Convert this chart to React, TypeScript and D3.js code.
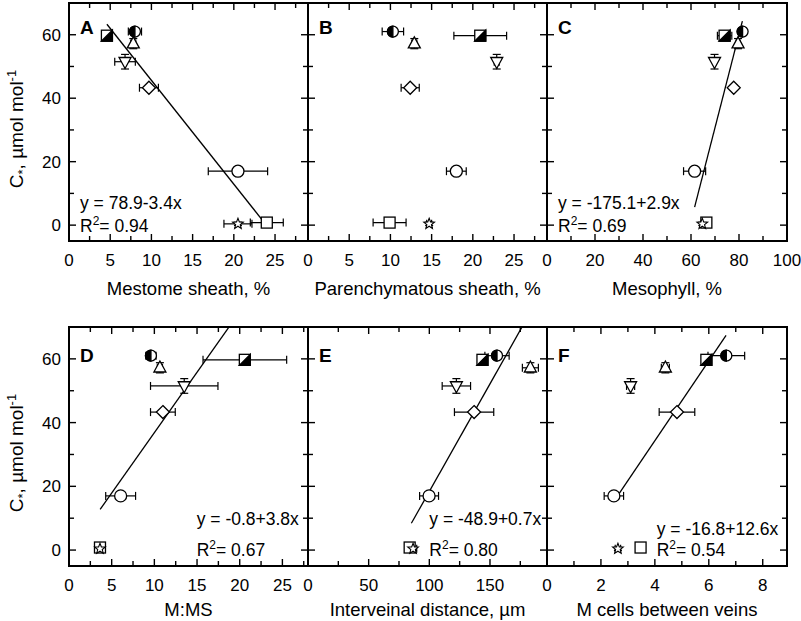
import * as d3 from 'd3'

// species order: half-filled circle, half-filled square, triangle up, triangle down,
// diamond, open circle, open square, star
const marks = ['halfCircle', 'halfSquare', 'triUp', 'triDown', 'diamond', 'circle', 'square', 'star']

// C* (umol mol-1), shared by all six panels
const cStar = [61, 59.7, 57.2, 51.5, 43.3, 17, 0.8, 0.4]
const cStarErr = [1, 0.8, 1.6, 2.3, 0.8, 0.8, 0.5, 0.5]

const mestome = [8.0, 4.6, 7.8, 6.8, 9.7, 20.5, 24.0, 20.5]
const mestomeErr = [0.8, 0.3, 0.3, 1.25, 1.15, 3.6, 2.0, 1.7]
const parench = [10.3, 20.9, 12.9, 22.9, 12.4, 18.0, 9.9, 14.7]
const parenchErr = [1.3, 3.2, 0.3, 0.3, 1.1, 1.2, 2.0, 0.3]
const mesophyll = [81.5, 74, 79.6, 69.8, 77.8, 61.5, 66.4, 64.7]
const mesophyllErr = [1.2, 3, 0.8, 0.5, 0.5, 4.6, 0.8, 0.5]
const mms = [9.6, 20.6, 10.65, 13.5, 11.0, 6.05, 3.63, 3.63]
const mmsErr = [0.6, 4.9, 0.3, 3.95, 1.45, 1.75, 0.3, 0.3]
const interveinal = [155.8, 143.8, 183.3, 122.3, 136.9, 99.8, 83.8, 86.6]
const interveinalErr = [10, 2, 6.6, 11.7, 16.2, 7.8, 3, 3]
const mCells = [6.65, 5.91, 4.39, 3.1, 4.82, 2.48, 3.47, 2.63]
const mCellsErr = [0.68, 0.1, 0.15, 0.15, 0.66, 0.36, 0.1, 0.1]

// regression lines (start and end point)
const fitA: [number, number][] = [[4.6, 63.3], [23.7, 0.8]]
const fitC: [number, number][] = [[61.5, 5.7], [81.4, 64.3]]
const fitD: [number, number][] = [[3.65, 12.8], [18.8, 70.2]]
const fitE: [number, number][] = [[85.2, 8.4], [176.7, 70.2]]
const fitF: [number, number][] = [[2.68, 17.8], [6.64, 67.4]]

const eqA = ['y = 78.9-3.4x', '0.94']
const eqC = ['y = -175.1+2.9x', '0.69']
const eqD = ['y = -0.8+3.8x', '0.67']
const eqE = ['y = -48.9+0.7x', '0.80']
const eqF = ['y = -16.8+12.6x', '0.54']

const yDomain = [-5, 70]
const yMajor = [0, 20, 40, 60]
const yMinor = [10, 30, 50]

const W = 801
const H = 621
const FONT = '"Liberation Sans", Arial, Helvetica, sans-serif'
const colX = [69, 308, 547, 787]
const rowY = [[3, 241], [327, 566]]
const letterDy = [30.5, 34.5]
const tickLabelDy = 25
const titleDy = [54, 49.5]

interface PanelDef {
  id: string
  col: number
  row: number
  xs: number[]
  xe: number[]
  domain: [number, number]
  major: number[]
  minor: number[]
  title: string
  fit?: [number, number][]
  eq?: string[]
  eqX?: number
  eqY?: [number, number]
}

const panels: PanelDef[] = [
  { id: 'A', col: 0, row: 0, xs: mestome, xe: mestomeErr, domain: [0, 29],
    major: d3.range(0, 26, 5), minor: d3.range(2.5, 29, 5), title: 'Mestome sheath, %',
    fit: fitA, eq: eqA, eqX: 11, eqY: [32.5, 9.5] },
  { id: 'B', col: 1, row: 0, xs: parench, xe: parenchErr, domain: [0, 29],
    major: d3.range(0, 26, 5), minor: d3.range(2.5, 29, 5), title: 'Parenchymatous sheath, %' },
  { id: 'C', col: 2, row: 0, xs: mesophyll, xe: mesophyllErr, domain: [0, 100],
    major: d3.range(0, 101, 20), minor: d3.range(10, 100, 20), title: 'Mesophyll, %',
    fit: fitC, eq: eqC, eqX: 11, eqY: [32.5, 9.5] },
  { id: 'D', col: 0, row: 1, xs: mms, xe: mmsErr, domain: [0, 28],
    major: d3.range(0, 26, 5), minor: d3.range(2.5, 28, 5), title: 'M:MS',
    fit: fitD, eq: eqD, eqX: 127.7, eqY: [41, 10.5] },
  { id: 'E', col: 1, row: 1, xs: interveinal, xe: interveinalErr, domain: [0, 197],
    major: [0, 50, 100, 150], minor: [25, 75, 125, 175], title: 'Interveinal distance, µm',
    fit: fitE, eq: eqE, eqX: 121.3, eqY: [41, 10.5] },
  { id: 'F', col: 2, row: 1, xs: mCells, xe: mCellsErr, domain: [0, 8.9],
    major: [0, 2, 4, 6, 8], minor: [1, 3, 5, 7], title: 'M cells between veins',
    fit: fitF, eq: eqF, eqX: 109.7, eqY: [31.5, 10] },
]

const starPath = (() => {
  const pts: string[] = []
  for (let i = 0; i < 10; i++) {
    const r = i % 2 === 0 ? 5.6 : 2.4
    const a = -Math.PI / 2 + (i * Math.PI) / 5
    pts.push(`${(r * Math.cos(a)).toFixed(2)},${(r * Math.sin(a)).toFixed(2)}`)
  }
  return 'M' + pts.join('L') + 'Z'
})()

const Marker = ({ kind, x, y }: { kind: string; x: number; y: number }) => {
  const st = { stroke: '#000', strokeWidth: 1.3 }
  const t = `translate(${x},${y})`
  switch (kind) {
    case 'circle':
      return <circle cx={x} cy={y} r={6} fill="#fff" {...st} />
    case 'halfCircle':
      return (
        <g transform={t}>
          <circle r={5.5} fill="#fff" {...st} />
          <path d="M0,-5.5A5.5,5.5 0 0 0 0,5.5Z" fill="#000" {...st} />
        </g>
      )
    case 'square':
      return <rect x={x - 5.5} y={y - 5.5} width={11} height={11} fill="#fff" {...st} />
    case 'halfSquare':
      return (
        <g transform={t}>
          <rect x={-5.5} y={-5.5} width={11} height={11} fill="#fff" {...st} />
          <path d="M5.5,-5.5L5.5,5.5L-5.5,5.5Z" fill="#000" {...st} />
        </g>
      )
    case 'triUp':
      return <path transform={t} d="M0,-6.8L6,4.2L-6,4.2Z" fill="#fff" {...st} />
    case 'triDown':
      return <path transform={t} d="M0,6.8L6,-4.2L-6,-4.2Z" fill="#fff" {...st} />
    case 'diamond':
      return <path transform={t} d="M0,-6.5L6.5,0L0,6.5L-6.5,0Z" fill="#fff" {...st} />
    default:
      return <path transform={t} d={starPath} fill="#fff" stroke="#000" strokeWidth={1.1} />
  }
}

const Panel = ({ p }: { p: PanelDef }) => {
  const x0 = colX[p.col]
  const x1 = colX[p.col + 1]
  const [top, bottom] = rowY[p.row]
  const x = d3.scaleLinear().domain(p.domain).range([x0, x1])
  const y = d3.scaleLinear().domain(yDomain).range([bottom, top])
  const line = d3.line<[number, number]>().x(d => x(d[0])).y(d => y(d[1]))
  const clipId = `clip-${p.id}`
  const tk = { stroke: '#000', strokeWidth: 1.4 }
  const cap = 4

  return (
    <g>
      <defs>
        <clipPath id={clipId}>
          <rect x={x0} y={top} width={x1 - x0} height={bottom - top} />
        </clipPath>
      </defs>

      {/* ticks, inward on all four sides */}
      {p.major.map(v => (
        <g key={'mx' + v}>
          <line x1={x(v)} x2={x(v)} y1={bottom} y2={bottom - 7} {...tk} />
          <line x1={x(v)} x2={x(v)} y1={top} y2={top + 7} {...tk} />
        </g>
      ))}
      {p.minor.map(v => (
        <g key={'nx' + v}>
          <line x1={x(v)} x2={x(v)} y1={bottom} y2={bottom - 5} {...tk} />
          <line x1={x(v)} x2={x(v)} y1={top} y2={top + 5} {...tk} />
        </g>
      ))}
      {yMajor.map(v => (
        <g key={'my' + v}>
          <line x1={x0} x2={x0 + 7} y1={y(v)} y2={y(v)} {...tk} />
          <line x1={x1} x2={x1 - 7} y1={y(v)} y2={y(v)} {...tk} />
        </g>
      ))}
      {yMinor.map(v => (
        <g key={'ny' + v}>
          <line x1={x0} x2={x0 + 5} y1={y(v)} y2={y(v)} {...tk} />
          <line x1={x1} x2={x1 - 5} y1={y(v)} y2={y(v)} {...tk} />
        </g>
      ))}

      {/* tick labels */}
      {p.major.map(v => (
        <text key={'lx' + v} x={x(v)} y={bottom + tickLabelDy} textAnchor="middle" fontSize={17}>
          {v}
        </text>
      ))}
      {p.col === 0 &&
        yMajor.map(v => (
          <text key={'ly' + v} x={x0 - 8} y={y(v)} dy="0.36em" textAnchor="end" fontSize={17}>
            {v}
          </text>
        ))}

      <text x={(x0 + x1) / 2} y={bottom + titleDy[p.row]} textAnchor="middle" fontSize={18.5}>
        {p.title}
      </text>

      {/* regression line */}
      {p.fit && (
        <path d={line(p.fit) as string} fill="none" stroke="#000" strokeWidth={1.3} clipPath={`url(#${clipId})`} />
      )}

      {/* error bars */}
      {p.xs.map((v, i) => {
        const cx = x(v)
        const cy = y(cStar[i])
        const xl = x(v - p.xe[i])
        const xr = x(v + p.xe[i])
        const yt = y(cStar[i] + cStarErr[i])
        const yb = y(cStar[i] - cStarErr[i])
        return (
          <g key={'e' + i} stroke="#000" strokeWidth={1.2} clipPath={`url(#${clipId})`}>
            <line x1={xl} x2={xr} y1={cy} y2={cy} />
            <line x1={xl} x2={xl} y1={cy - cap} y2={cy + cap} />
            <line x1={xr} x2={xr} y1={cy - cap} y2={cy + cap} />
            <line x1={cx} x2={cx} y1={yt} y2={yb} />
            <line x1={cx - cap} x2={cx + cap} y1={yt} y2={yt} />
            <line x1={cx - cap} x2={cx + cap} y1={yb} y2={yb} />
          </g>
        )
      })}

      {/* markers; the star comes last so it shows on top of the square */}
      {p.xs.map((v, i) => (
        <Marker key={'m' + i} kind={marks[i]} x={x(v)} y={y(cStar[i])} />
      ))}

      {/* frame */}
      <rect x={x0} y={top} width={x1 - x0} height={bottom - top} fill="none" stroke="#000" strokeWidth={2} />

      <text x={x0 + 11} y={top + letterDy[p.row]} fontSize={19} fontWeight="bold">
        {p.id}
      </text>

      {p.eq && p.eqY && (
        <g fontSize={17.5}>
          <text x={x0 + (p.eqX ?? 0)} y={bottom - p.eqY[0]}>{p.eq[0]}</text>
          <text x={x0 + (p.eqX ?? 0)} y={bottom - p.eqY[1]}>
            R<tspan dy={-7} fontSize={12}>2</tspan>
            <tspan dy={7}>= {p.eq[1]}</tspan>
          </text>
        </g>
      )}
    </g>
  )
}

const YTitle = ({ cy }: { cy: number }) => (
  <text transform={`translate(23,${cy}) rotate(-90)`} textAnchor="middle" fontSize={19}>
    C<tspan dy={4} fontSize={13}>*</tspan>
    <tspan dy={-4}>, µmol mol</tspan>
    <tspan dy={-7} fontSize={13}>-1</tspan>
  </text>
)

export default function App() {
  return (
    <svg
      width={W}
      height={H}
      style={{ position: 'absolute', left: 0, top: 0, background: '#fff' }}
      fontFamily={FONT}
    >
      {panels.map(p => (
        <Panel key={p.id} p={p} />
      ))}
      <YTitle cy={129} />
      <YTitle cy={453} />
    </svg>
  )
}
